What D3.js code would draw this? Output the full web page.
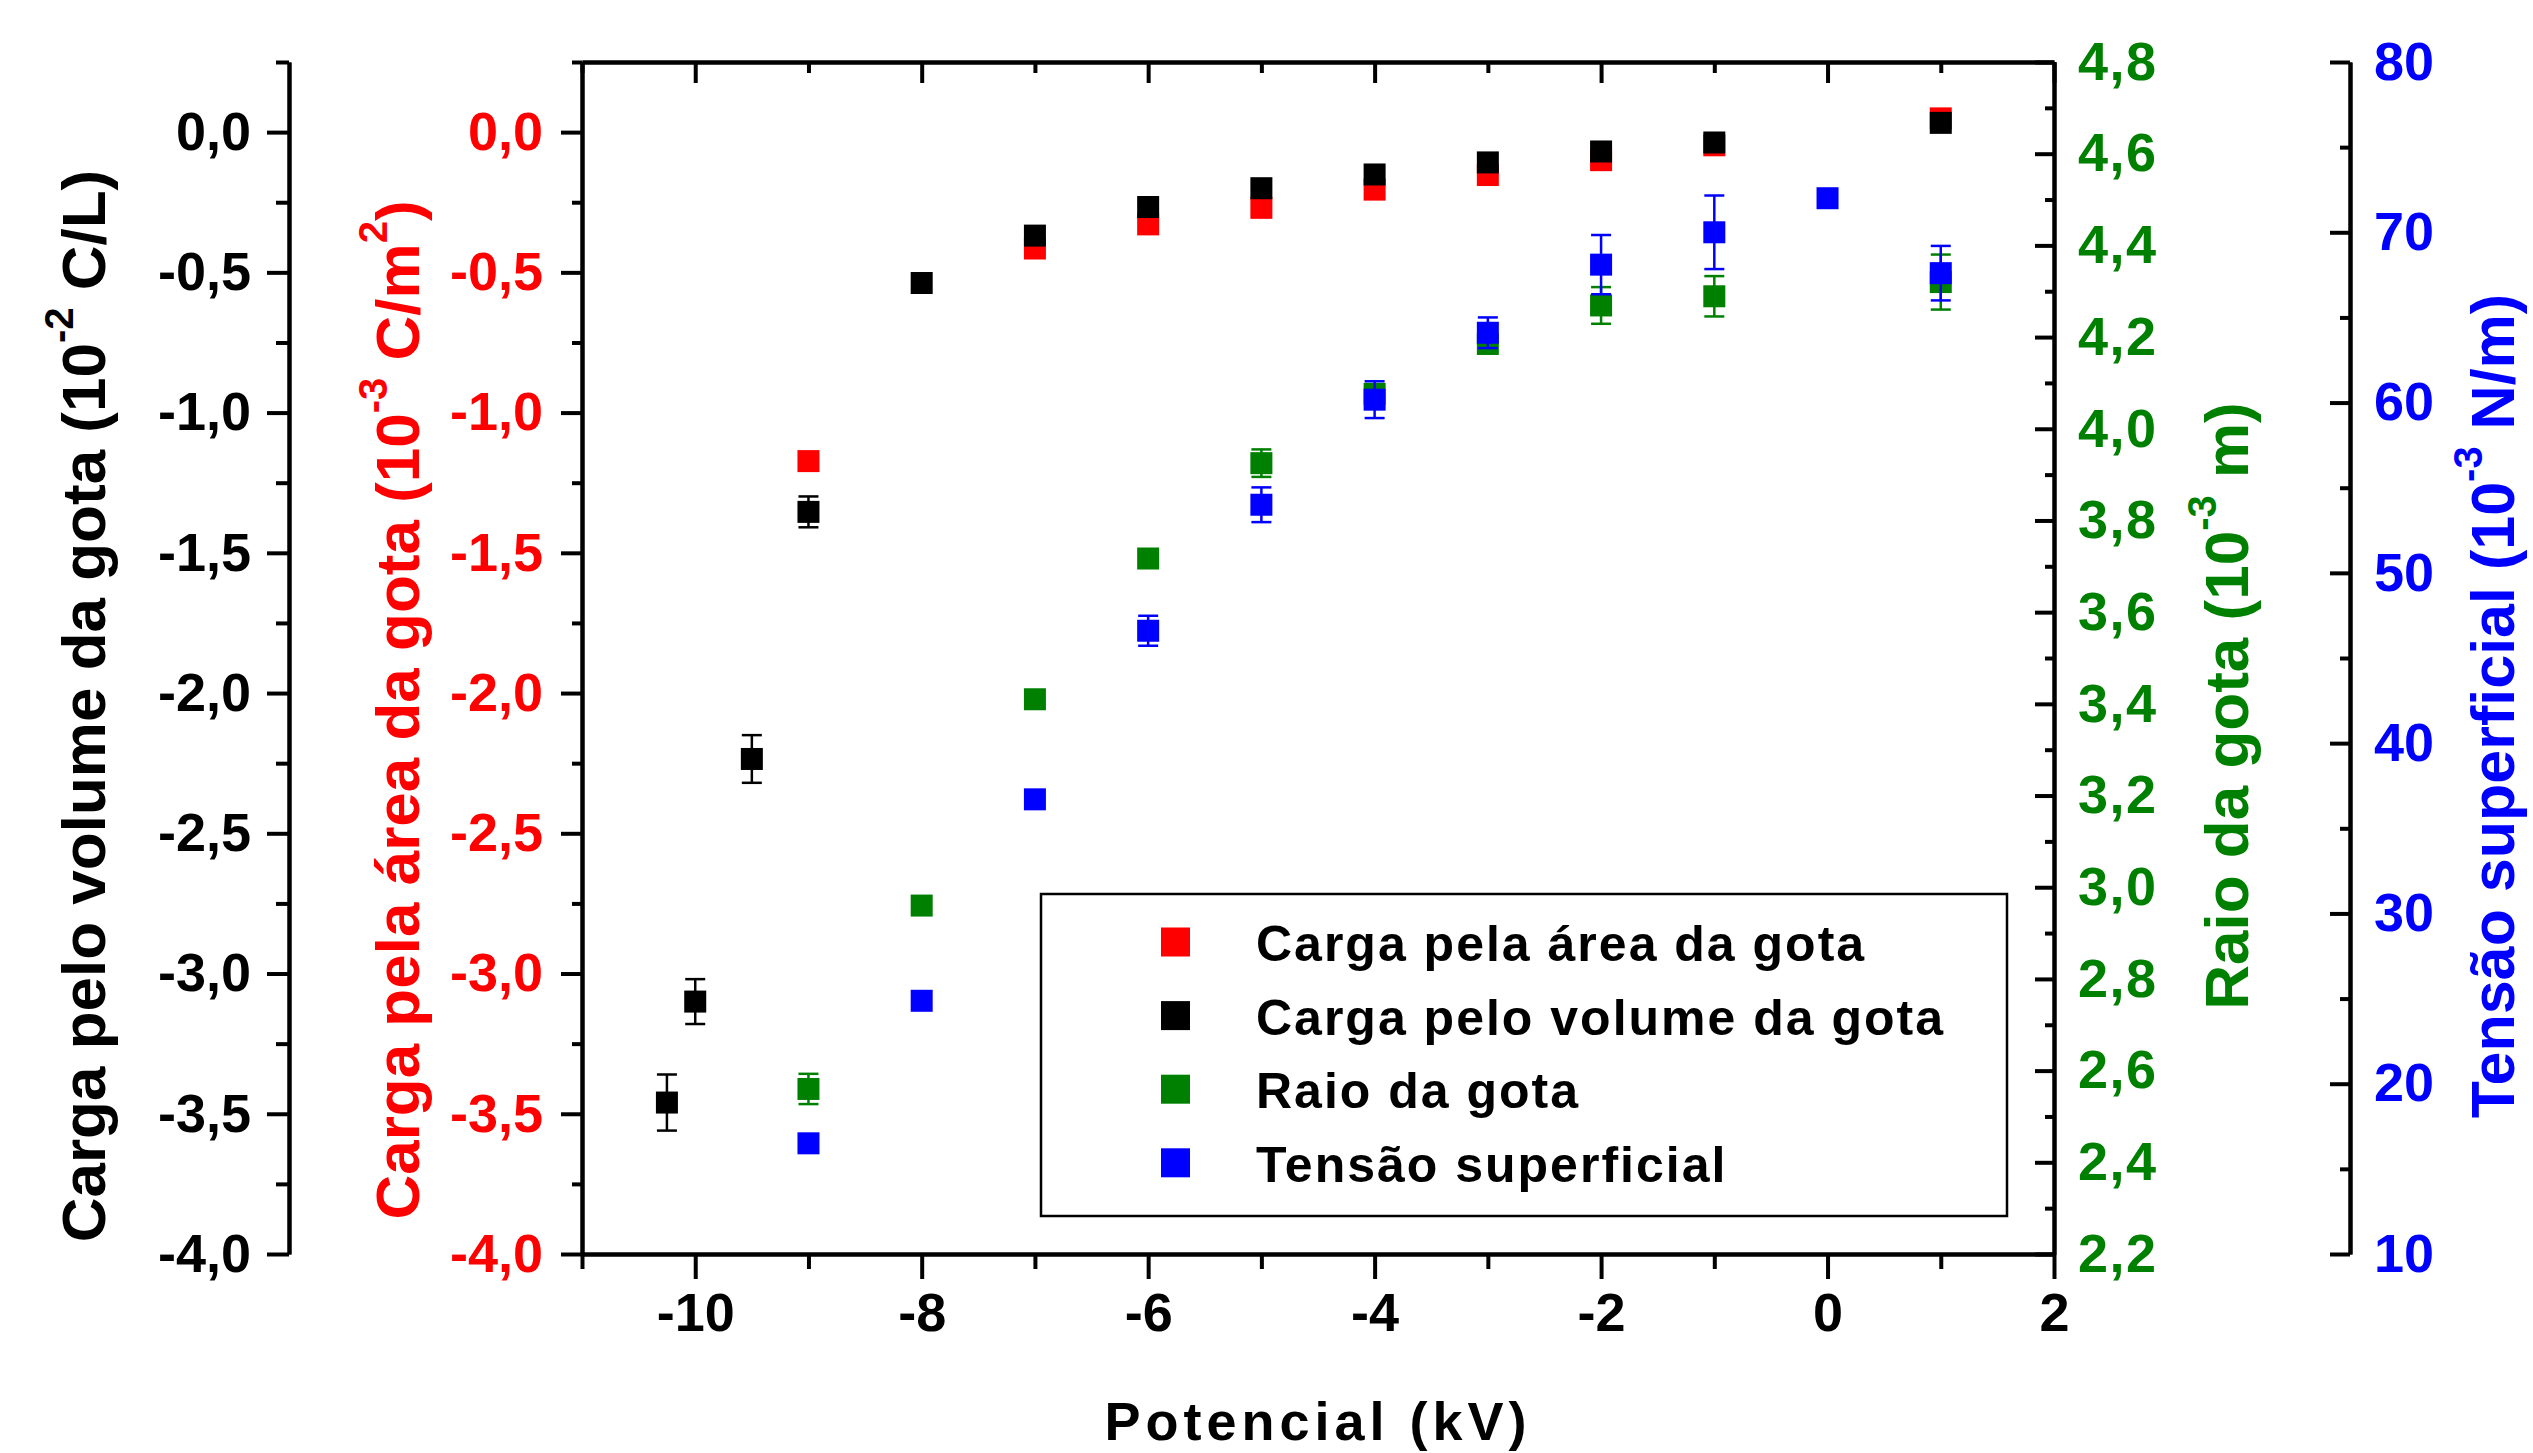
<!DOCTYPE html>
<html>
<head>
<meta charset="utf-8">
<script src="https://cdn.jsdelivr.net/npm/d3@7"></script>
<style>
  body { margin: 0; background: #fff; }
  svg text { font-family: 'Liberation Sans', Arial, sans-serif; font-weight: bold; }
</style>
</head>
<body>
<div id="chart"></div>
<script>
// --- data ---
const xArea = [-9, -7, -6, -5, -4, -3, -2, -1, 1]
const cargaArea = [-1.173, -0.415, -0.329, -0.27, -0.205, -0.153, -0.10, -0.047, 0.049]
const cargaAreaErr = [0, 0, 0, 0, 0, 0, 0, 0, 0]

const xVolume = [-10.25, -10, -9.5, -9, -8, -7, -6, -5, -4, -3, -2, -1, 1]
const cargaVolume = [-3.46, -3.10, -2.235, -1.354, -0.538, -0.369, -0.267, -0.20, -0.151, -0.108, -0.069, -0.037, 0.033]
const cargaVolumeErr = [0.10, 0.08, 0.085, 0.055, 0, 0, 0, 0, 0, 0, 0, 0, 0]

const xRaio = [-9, -8, -7, -6, -5, -4, -3, -2, -1, 1]
const raio = [2.56, 2.96, 3.41, 3.717, 3.925, 4.076, 4.185, 4.269, 4.289, 4.32]
const raioErr = [0.033, 0, 0, 0.02, 0.03, 0.02, 0.02, 0.04, 0.044, 0.06]

const xTensao = [-9, -8, -7, -6, -5, -4, -3, -2, -1, 0, 1]
const tensao = [16.5, 24.87, 36.7, 46.6, 54.0, 60.17, 64.1, 68.1, 70.0, 72.0, 67.6]
const tensaoErr = [0, 0, 0, 0.88, 1.02, 1.08, 0.9, 1.74, 2.16, 0, 1.6]

const legendNames = ['Carga pela área da gota', 'Carga pelo volume da gota', 'Raio da gota', 'Tensão superficial']

const potTicks = [-10, -8, -6, -4, -2, 0, 2]
const cargaTicks = [-4, -3.5, -3, -2.5, -2, -1.5, -1, -0.5, 0]
const raioTicks = [2.2, 2.4, 2.6, 2.8, 3.0, 3.2, 3.4, 3.6, 3.8, 4.0, 4.2, 4.4, 4.6, 4.8]
const tensaoTicks = [10, 20, 30, 40, 50, 60, 70, 80]

// --- layout ---
const W = 2533, H = 1453
const frame = { left: 582, right: 2054, top: 62, bottom: 1254 }
const RED = '#ff0000', GREEN = '#008000', BLUE = '#0000ff'

const svg = d3.select('#chart').append('svg')
  .attr('width', W).attr('height', H)
  .style('background', '#fff')

const x = d3.scaleLinear().domain([-11, 2]).range([frame.left, frame.right])
const yCarga = d3.scaleLinear().domain([-4, 0.25]).range([frame.bottom, frame.top])
const yRaio = d3.scaleLinear().domain([2.2, 4.8]).range([frame.bottom, frame.top])
const yTensao = d3.scaleLinear().domain([10, 80]).range([frame.bottom, frame.top])

const loc = d3.formatLocale({ decimal: ',', thousands: '.', grouping: [3], currency: ['', ''], minus: '-' })
const f1 = loc.format('.1f'), f0 = loc.format('d')

function axis (maker, scale, pos, major, minor, size, minSize, pad, fmt, color) {
  const g = svg.append('g').attr('transform', pos)
  g.append('g').call(maker(scale).tickValues(minor).tickSize(minSize).tickSizeOuter(0).tickFormat(''))
  g.append('g').call(maker(scale).tickValues(major).tickSize(size).tickSizeOuter(0).tickPadding(pad).tickFormat(fmt || ''))
  g.selectAll('.domain').attr('stroke', '#000').attr('stroke-width', 4)
  g.selectAll('.tick line').attr('stroke', '#000').attr('stroke-width', 4)
  g.selectAll('.tick text').attr('fill', color || '#000').attr('font-size', 54)
  return g
}

const minorCarga = d3.range(-3.75, 0.3, 0.5)
const minorRaio = d3.range(2.3, 4.8, 0.2)
const minorTensao = d3.range(15, 80, 10)
const minorPot = d3.range(-11, 2, 2)

axis(d3.axisLeft, yCarga, 'translate(289,0)', cargaTicks, minorCarga, 22, 13, 16, f1, '#000')
axis(d3.axisLeft, yCarga, `translate(${frame.left},0)`, cargaTicks, minorCarga, 21, 10, 18, f1, RED)
axis(d3.axisTop, x, `translate(0,${frame.top})`, potTicks, minorPot, -21, -11, 0, null)
axis(d3.axisBottom, x, `translate(0,${frame.bottom})`, potTicks, minorPot, 25, 15, 14, f0, '#000')
axis(d3.axisRight, yRaio, `translate(${frame.right},0)`, raioTicks, minorRaio, -19, -9, 24, f1, GREEN)
  .selectAll('.tick text').attr('letter-spacing', 1.5)
axis(d3.axisRight, yTensao, 'translate(2350,0)', tensaoTicks, minorTensao, -20, -10, 24, f0, BLUE)

// --- axis titles ---
function vTitle (xb, yc, color, parts, size) {
  const t = svg.append('text')
    .attr('transform', `translate(${xb},${yc}) rotate(-90)`)
    .attr('text-anchor', 'middle')
    .attr('fill', color)
    .attr('font-size', size || 62)
  let raised = false
  parts.forEach(p => {
    const sup = p[1]
    const s = t.append('tspan').text(p[0])
    if (sup && !raised) { s.attr('dy', -32).attr('font-size', 40); raised = true }
    else if (!sup && raised) { s.attr('dy', 32); raised = false }
    else if (sup) s.attr('font-size', 40)
  })
}
vTitle(105, 706, '#000', [['Carga pelo volume da gota (10', 0], ['-2', 1], ['  C/L)', 0]])
vTitle(419, 710, RED, [['Carga pela área da gota (10', 0], ['-3', 1], ['  C/m', 0], ['2', 1], [')', 0]])
vTitle(2248, 706, GREEN, [['Raio da gota (10', 0], ['-3', 1], ['  m)', 0]])
vTitle(2514, 706, BLUE, [['Tensão superficial (10', 0], ['-3', 1], ['  N/m)', 0]], 61)

svg.append('text')
  .attr('x', (frame.left + frame.right) / 2)
  .attr('y', 1440)
  .attr('text-anchor', 'middle')
  .attr('font-size', 54)
  .attr('letter-spacing', 5)
  .text('Potencial (kV)')

// --- series ---
const series = [
  { color: RED, xs: xArea, ys: cargaArea, err: cargaAreaErr, y: yCarga },
  { color: '#000', xs: xVolume, ys: cargaVolume, err: cargaVolumeErr, y: yCarga },
  { color: GREEN, xs: xRaio, ys: raio, err: raioErr, y: yRaio },
  { color: BLUE, xs: xTensao, ys: tensao, err: tensaoErr, y: yTensao }
]
const ms = 22, cap = 10

series.forEach(s => {
  const pts = s.xs.map((v, i) => ({ x: v, y: s.ys[i], e: s.err[i] }))
  const g = svg.append('g')
  const eb = g.selectAll('.err').data(pts.filter(d => d.e > 0)).enter().append('g')
    .attr('stroke', s.color).attr('stroke-width', 2.5).attr('fill', 'none')
  eb.append('line')
    .attr('x1', d => x(d.x)).attr('x2', d => x(d.x))
    .attr('y1', d => s.y(d.y - d.e)).attr('y2', d => s.y(d.y + d.e))
  eb.append('line')
    .attr('x1', d => x(d.x) - cap).attr('x2', d => x(d.x) + cap)
    .attr('y1', d => s.y(d.y - d.e)).attr('y2', d => s.y(d.y - d.e))
  eb.append('line')
    .attr('x1', d => x(d.x) - cap).attr('x2', d => x(d.x) + cap)
    .attr('y1', d => s.y(d.y + d.e)).attr('y2', d => s.y(d.y + d.e))
  g.selectAll('.dot').data(pts).enter().append('rect')
    .attr('x', d => x(d.x) - ms / 2)
    .attr('y', d => s.y(d.y) - ms / 2)
    .attr('width', ms).attr('height', ms)
    .attr('fill', s.color)
})

// --- legend ---
const leg = svg.append('g')
leg.append('rect')
  .attr('x', 1041).attr('y', 894).attr('width', 966).attr('height', 322)
  .attr('fill', '#fff').attr('stroke', '#000').attr('stroke-width', 2.5)
const rows = leg.selectAll('.row').data(legendNames).enter().append('g')
  .attr('transform', (d, i) => `translate(0,${942 + i * 73.6})`)
rows.append('rect')
  .attr('x', 1161).attr('y', -14.5).attr('width', 29).attr('height', 29)
  .attr('fill', (d, i) => series[i].color)
rows.append('text')
  .attr('x', 1256).attr('y', 19)
  .attr('font-size', 50).attr('letter-spacing', 2)
  .text(d => d)
</script>
</body>
</html>
